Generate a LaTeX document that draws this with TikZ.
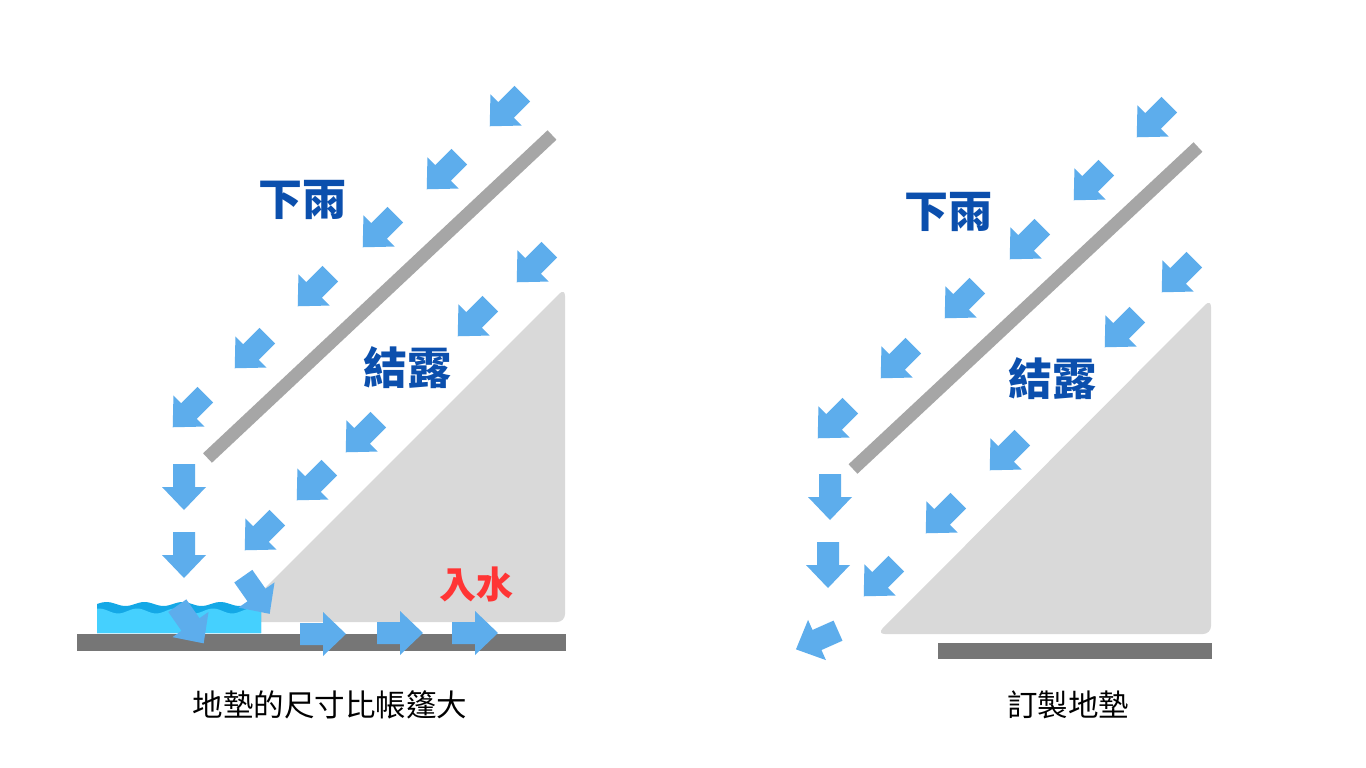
\documentclass[tikz,border=0pt]{standalone}
\usepackage{fontspec}
\newfontfamily\cjk{Noto Sans CJK TC}
\definecolor{arrowblue}{HTML}{5DADEC}
\definecolor{textblue}{HTML}{0B4FAD}
\definecolor{roofgray}{HTML}{A6A6A6}
\definecolor{tentgray}{HTML}{D9D9D9}
\definecolor{floorgray}{HTML}{767676}
\definecolor{waterlight}{HTML}{45D0FE}
\definecolor{waterdark}{HTML}{14A8E6}
\definecolor{wetred}{HTML}{FF3535}
\tikzset{
  rainarrow/.pic={\fill[arrowblue] (-23,-11) -- (0,-11) -- (0,-22) -- (23,0) -- (0,22) -- (0,11) -- (-23,11) -- cycle;},
  roofbar/.style={draw=roofgray,line width=13pt},
  tent/.style={fill=tentgray,rounded corners=8pt},
  floorbar/.style={fill=floorgray},
  bigword/.style={font=\cjk\bfseries\fontsize{44}{50}\selectfont,text=textblue,inner sep=0pt},
  caption/.style={font=\cjk\fontsize{30.5}{36}\selectfont,text=black,inner sep=0pt},
}
\begin{document}
\begin{tikzpicture}[x=1pt,y=-1pt]
\useasboundingbox[fill=white] (0,0) rectangle (1366,768);
% ===== Left panel =====
\fill[tent] (231,622) -- (565,622) -- (565,288) -- cycle;
\coordinate (roofLa) at (207.5,458);
\coordinate (roofLb) at (552,135);
\draw[roofbar] (roofLa) -- (roofLb);
\fill[floorbar] (77,634) rectangle (566,651);
% water
\fill[waterdark] plot[domain=97:261,samples=60] (\x,{604-2*sin((\x-97)*9.4737)}) -- (261,633) -- (97,633) -- cycle;
\fill[waterlight] plot[domain=97:261,samples=60] (\x,{611-2.5*sin((\x-97)*9.4737+70)}) -- (261,633) -- (97,633) -- cycle;
% rain (outer)
\foreach \p in {(506,110),(443,173),(379,231),(314,290),(251,352),(189,411)}
  \pic[rotate=225] at \p {rainarrow};
\pic[rotate=-90] at (184,487) {rainarrow};
\pic[rotate=-90] at (184,555) {rainarrow};
% condensation (inner)
\foreach \p in {(533,266),(474,320),(362,436),(313,484),(261,534)}
  \pic[rotate=225] at \p {rainarrow};
\pic[rotate=-55] at (256.5,595) {rainarrow};
\pic[rotate=-55] at (190.5,624.5) {rainarrow};
\foreach \p in {(323,634),(400,633),(475,633)}
  \pic at \p {rainarrow};
\node[bigword] (rainL) at (302,200) {下雨};
\node[bigword] (dewL) at (407,368) {結露};
\node[font=\cjk\bfseries\fontsize{37}{42}\selectfont,text=wetred,inner sep=0pt] (wet) at (476,584) {入水};
\node[caption] (capL) at (330,705) {地墊的尺寸比帳篷大};
% ===== Right panel =====
\fill[tent] (877,634) -- (1211,634) -- (1211,299) -- cycle;
\coordinate (roofRa) at (853,469);
\coordinate (roofRb) at (1198,147);
\draw[roofbar] (roofRa) -- (roofRb);
\fill[floorbar] (938,643) rectangle (1212,659);
\foreach \p in {(1153,121),(1090,184),(1026,243),(961,302),(897,362),(834,422)}
  \pic[rotate=225] at \p {rainarrow};
\pic[rotate=-90] at (830,497) {rainarrow};
\pic[rotate=-90] at (828,565) {rainarrow};
\pic[rotate=204] at (817,640) {rainarrow};
\foreach \p in {(1178,276),(1121,331),(1006,454),(942,517),(880,580)}
  \pic[rotate=225] at \p {rainarrow};
\node[bigword] (rainR) at (948,212) {下雨};
\node[bigword] (dewR) at (1052,379) {結露};
\node[caption] (capR) at (1068,705) {訂製地墊};
\end{tikzpicture}
\end{document}
